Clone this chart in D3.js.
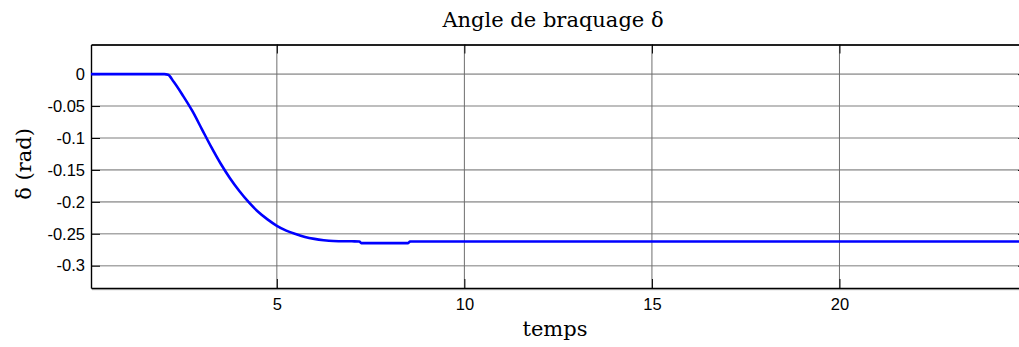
<!DOCTYPE html>
<html>
<head>
<meta charset="utf-8">
<script src="https://cdn.jsdelivr.net/npm/d3@7"></script>
<style>
  html, body { margin: 0; padding: 0; background: #fff; }
  svg { display: block; }
</style>
</head>
<body>
<svg id="chart" width="1019" height="347"></svg>
<script>
// Steering angle response (rad) versus time
const time  = [0, 0.5, 1.0, 1.5, 2.0, 2.1, 2.25, 2.5, 2.75, 3.0, 3.25, 3.5, 3.75, 4.0, 4.25, 4.5, 4.75, 5.0, 5.25, 5.5, 5.75, 6.0, 6.25, 6.5, 7.0, 7.2, 7.25, 8.5, 8.55, 10, 15, 20, 25];
const delta = [0, 0, 0, 0, 0, -0.001, -0.012, -0.034, -0.058, -0.086, -0.114, -0.140, -0.163, -0.183, -0.2005, -0.2155, -0.2275, -0.2375, -0.2450, -0.2505, -0.2550, -0.2580, -0.2600, -0.2612, -0.2618, -0.2620, -0.2646, -0.2646, -0.2620, -0.2620, -0.2620, -0.2620, -0.2620];

const xTicks = [5, 10, 15, 20];
const yTicks = [0, -0.05, -0.1, -0.15, -0.2, -0.25, -0.3];

const titleText = "Angle de braquage δ";
const xLabel = "temps";
const yLabel = "δ (rad)";

const svg = d3.select("#chart");
const plotLeft = 91, plotRight = 1027, plotTop = 44.5, plotBottom = 288;

const x = d3.scaleLinear().domain([0.045, 25]).range([plotLeft, plotRight]);
const y = d3.scaleLinear().domain([-0.3349, 0.0464]).range([plotBottom, plotTop]);

const clipId = "plot-clip";
svg.append("defs").append("clipPath").attr("id", clipId)
  .append("rect").attr("x", plotLeft).attr("y", plotTop)
  .attr("width", plotRight - plotLeft).attr("height", plotBottom - plotTop);

// faint drop shadow under the frame
svg.append("line")
  .attr("x1", plotLeft + 1).attr("x2", plotRight + 1)
  .attr("y1", plotBottom + 1.6).attr("y2", plotBottom + 1.6)
  .attr("stroke", "#c8c8c8").attr("stroke-width", 1.2);

// grid
const grid = svg.append("g");
grid.selectAll("line.h").data(yTicks).join("line")
  .attr("class", "h")
  .attr("x1", plotLeft).attr("x2", plotRight)
  .attr("y1", d => y(d)).attr("y2", d => y(d))
  .attr("stroke", "#a8a8a8").attr("stroke-width", 1.6);
grid.selectAll("line.v").data(xTicks).join("line")
  .attr("class", "v")
  .attr("x1", d => x(d)).attr("x2", d => x(d))
  .attr("y1", plotTop).attr("y2", plotBottom)
  .attr("stroke", "#6e6e6e").attr("stroke-width", 1);

// axes with inward ticks on all four sides
const tickLen = 9;
const axisFont = "'Liberation Sans', Arial, sans-serif";
const axisSize = 16.5;

const xAxisB = d3.axisBottom(x).tickValues(xTicks).tickSizeInner(-tickLen).tickSizeOuter(0)
  .tickPadding(10).tickFormat(d3.format("d"));
const gxb = svg.append("g").attr("transform", `translate(0,${plotBottom})`).call(xAxisB);
gxb.select(".domain").attr("stroke", "#000").attr("stroke-width", 1.6);
gxb.selectAll(".tick line").attr("stroke", "#000");
gxb.selectAll(".tick text").attr("font-family", axisFont).attr("font-size", axisSize).attr("fill", "#000");

const xAxisT = d3.axisTop(x).tickValues(xTicks).tickSizeInner(-tickLen).tickSizeOuter(0).tickFormat("");
const gxt = svg.append("g").attr("transform", `translate(0,${plotTop})`).call(xAxisT);
gxt.select(".domain").attr("stroke", "#222").attr("stroke-width", 2);
gxt.selectAll(".tick line").attr("stroke", "#000");

const yAxisL = d3.axisLeft(y).tickValues(yTicks).tickSizeInner(-tickLen).tickSizeOuter(0)
  .tickPadding(6)
  .tickFormat(d => d === 0 ? "0" : String(d));
const gyl = svg.append("g").attr("transform", `translate(${plotLeft},0)`).call(yAxisL);
gyl.select(".domain").attr("stroke", "#000").attr("stroke-width", 1.4);
gyl.selectAll(".tick line").attr("stroke", "#000");
gyl.selectAll(".tick text").attr("font-family", axisFont).attr("font-size", axisSize).attr("fill", "#000");

const yAxisR = d3.axisRight(y).tickValues(yTicks).tickSizeInner(-tickLen).tickSizeOuter(0).tickFormat("");
const gyr = svg.append("g").attr("transform", `translate(${plotRight},0)`).call(yAxisR);
gyr.select(".domain").attr("stroke", "#000").attr("stroke-width", 1.4);
gyr.selectAll(".tick line").attr("stroke", "#000");

// response curve
const line = d3.line().x((d, i) => x(time[i])).y(d => y(d)).curve(d3.curveMonotoneX);
svg.append("path")
  .attr("clip-path", `url(#${clipId})`)
  .attr("d", line(delta))
  .attr("fill", "none")
  .attr("stroke", "#0000ff")
  .attr("stroke-width", 2.6)
  .attr("stroke-linejoin", "round");

// titles
const serif = "'DejaVu Serif', 'Liberation Serif', serif";
const labelSize = 21;
svg.append("text")
  .attr("x", 553).attr("y", 27)
  .attr("text-anchor", "middle")
  .attr("font-family", serif).attr("font-size", labelSize)
  .text(titleText);

svg.append("text")
  .attr("x", 555).attr("y", 336)
  .attr("text-anchor", "middle")
  .attr("font-family", serif).attr("font-size", labelSize)
  .text(xLabel);

svg.append("text")
  .attr("transform", "translate(31,164) rotate(-90)")
  .attr("text-anchor", "middle")
  .attr("font-family", serif).attr("font-size", labelSize)
  .text(yLabel);
</script>
</body>
</html>
